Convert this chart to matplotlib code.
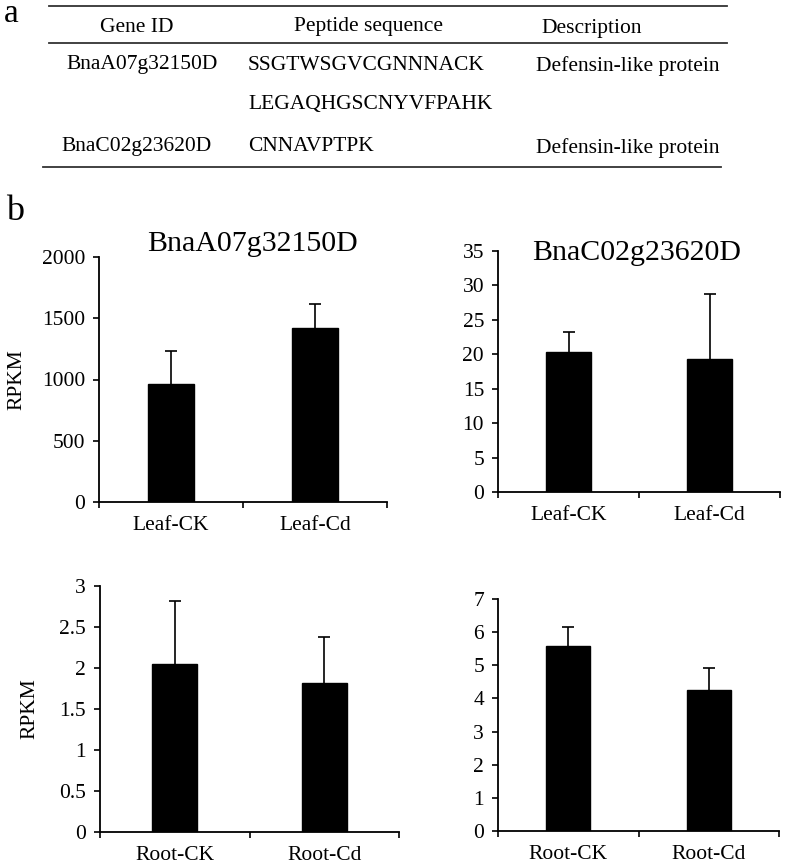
import matplotlib
matplotlib.use('Agg')
import matplotlib.pyplot as plt
from matplotlib.lines import Line2D

plt.rcParams['font.family'] = ['Liberation Serif', 'DejaVu Serif']

# table data (panel a)
table_header = ['Gene ID', 'Peptide sequence', 'Description']
gene_ids = ['BnaA07g32150D', '', 'BnaC02g23620D']
peptides = ['SSGTWSGVCGNNNACK', 'LEGAQHGSCNYVFPAHK', 'CNNAVPTPK']
descriptions = ['Defensin-like protein', '', 'Defensin-like protein']

# bar data (panel b)
leaf_cats = ['Leaf-CK', 'Leaf-Cd']
root_cats = ['Root-CK', 'Root-Cd']

a07_leaf = [966, 1423]
a07_leaf_err = [266, 193]
c02_leaf = [20.3, 19.25]
c02_leaf_err = [2.9, 9.55]
a07_root = [2.05, 1.82]
a07_root_err = [0.77, 0.56]
c02_root = [5.59, 4.26]
c02_root_err = [0.58, 0.65]

W, H = 787, 867
fig = plt.figure(figsize=(W / 100, H / 100), dpi=100)


def fx(x):
    return x / W


def fy(y):
    return 1 - y / H


# ---- panel a: table ----
fig.text(fx(4), fy(14), 'a', fontsize=24, va='center', ha='left')
line_col = '#333333'
for y, x0, x1 in [(6, 49, 727), (43, 49, 727), (167, 43, 721)]:
    fig.add_artist(Line2D([fx(x0), fx(x1)], [fy(y), fy(y)], color=line_col, lw=1.3))

fs_tab = 15.5
fig.text(fx(137), fy(27), table_header[0], fontsize=fs_tab, ha='center', va='center')
fig.text(fx(369), fy(27), table_header[1], fontsize=fs_tab, ha='center', va='center')
fig.text(fx(592), fy(29), table_header[2], fontsize=fs_tab, ha='center', va='center')

row_y = [65, 104, 147]
gene_x = [142, 142, 137]
for i in range(3):
    if gene_ids[i]:
        fig.text(fx(gene_x[i]), fy(row_y[i]), gene_ids[i], fontsize=fs_tab, ha='center', va='center')
    fig.text(fx(248), fy(row_y[i]), peptides[i], fontsize=fs_tab, ha='left', va='center')
    if descriptions[i]:
        fig.text(fx(628), fy(row_y[i] + 1), descriptions[i], fontsize=fs_tab, ha='center', va='center')

# ---- panel b: bar charts ----
fig.text(fx(6), fy(212), 'b', fontsize=26, va='center', ha='left')


def bar_panel(box, vals, errs, cats, ymax, ystep, bw, title=None, title_xy=None, ylabel_x=None):
    x0, y_top, x1, y_bot = box
    ax = fig.add_axes([fx(x0), fy(y_bot), fx(x1 - x0), (y_bot - y_top) / H])
    pos = list(range(len(vals)))
    ax.bar(pos, vals, width=bw, color='black', edgecolor='black', zorder=2)
    _, caps, _ = ax.errorbar(pos, vals, yerr=[[0] * len(errs), errs], fmt='none', ecolor='black',
                             elinewidth=1.2, capsize=4.5, capthick=1.2, zorder=1)
    # only the upper cap is drawn in the original
    for c in caps:
        if list(c.get_ydata()) == list(vals):
            c.set_visible(False)
    ax.set_xlim(-0.5, len(vals) - 0.5)
    ax.set_ylim(0, ymax)
    ticks = [ystep * k for k in range(int(round(ymax / ystep)) + 1)]
    ax.set_yticks(ticks)
    ax.set_yticklabels(['%g' % t for t in ticks])
    ax.set_xticks(pos)
    ax.set_xticklabels(cats)
    ax.set_xticks([p - 0.5 for p in pos] + [len(vals) - 0.5], minor=True)
    ax.tick_params(axis='x', which='major', length=0, pad=10, labelsize=15.5)
    ax.tick_params(axis='x', which='minor', length=4, width=1.2, direction='out')
    ax.tick_params(axis='y', length=4, width=1.2, direction='out', pad=6, labelsize=15.5)
    for s in ['top', 'right']:
        ax.spines[s].set_visible(False)
    for s in ['left', 'bottom']:
        ax.spines[s].set_linewidth(1.3)
    if title:
        fig.text(fx(title_xy[0]), fy(title_xy[1]), title, fontsize=21.5, ha='center', va='center')
    if ylabel_x is not None:
        fig.text(fx(ylabel_x), fy((y_top + y_bot) / 2), 'RPKM', fontsize=15.5,
                 rotation=90, ha='center', va='center')
    return ax


bar_panel((99, 257, 387, 502), a07_leaf, a07_leaf_err, leaf_cats, 2000, 500, 0.32,
          'BnaA07g32150D', (252, 244), ylabel_x=17)
bar_panel((498, 251, 780, 492), c02_leaf, c02_leaf_err, leaf_cats, 35, 5, 0.32,
          'BnaC02g23620D', (637, 253))
bar_panel((100, 586, 399, 832), a07_root, a07_root_err, root_cats, 3, 0.5, 0.30,
          ylabel_x=30)
bar_panel((498, 599, 779, 831), c02_root, c02_root_err, root_cats, 7, 1, 0.31)

fig.savefig('out.png', dpi=100)
